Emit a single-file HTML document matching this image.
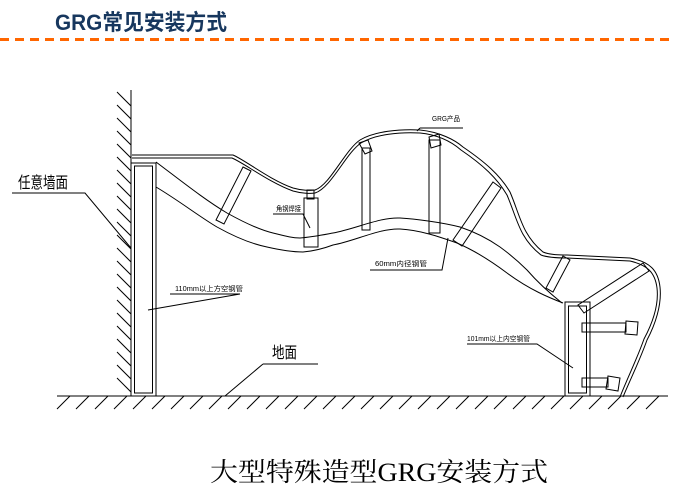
<!DOCTYPE html>
<html><head><meta charset="utf-8"><style>
html,body{margin:0;padding:0;background:#fff;}
svg{display:block;}
</style></head><body>
<svg width="687" height="499" viewBox="0 0 687 499" xmlns="http://www.w3.org/2000/svg">
<text x="55" y="30" font-family="Liberation Sans, 'Noto Sans CJK SC', sans-serif" font-weight="bold" font-size="22" fill="#17375e" textLength="172" lengthAdjust="spacingAndGlyphs">GRG常见安装方式</text>
<line x1="0" y1="39.5" x2="672" y2="39.5" stroke="#ff6600" stroke-width="3" stroke-dasharray="9,6"/>
<g stroke="#000" stroke-width="1" fill="none">
<line x1="131" y1="90" x2="131" y2="396"/>
<g>
<line x1="117" y1="92" x2="131" y2="106"/><line x1="117" y1="105" x2="131" y2="119"/><line x1="117" y1="118" x2="131" y2="132"/><line x1="117" y1="131" x2="131" y2="145"/><line x1="117" y1="144" x2="131" y2="158"/><line x1="117" y1="157" x2="131" y2="171"/><line x1="117" y1="170" x2="131" y2="184"/><line x1="117" y1="183" x2="131" y2="197"/><line x1="117" y1="196" x2="131" y2="210"/><line x1="117" y1="209" x2="131" y2="223"/><line x1="117" y1="222" x2="131" y2="236"/><line x1="117" y1="235" x2="131" y2="249"/><line x1="117" y1="248" x2="131" y2="262"/><line x1="117" y1="261" x2="131" y2="275"/><line x1="117" y1="274" x2="131" y2="288"/><line x1="117" y1="287" x2="131" y2="301"/><line x1="117" y1="300" x2="131" y2="314"/><line x1="117" y1="313" x2="131" y2="327"/><line x1="117" y1="326" x2="131" y2="340"/><line x1="117" y1="339" x2="131" y2="353"/><line x1="117" y1="352" x2="131" y2="366"/><line x1="117" y1="365" x2="131" y2="379"/><line x1="117" y1="378" x2="131" y2="392"/>
</g>
<line x1="57" y1="396" x2="668" y2="396"/>
<path d="M57 409L70 396M76 409L89 396M95 409L108 396M114 409L127 396M133 409L146 396M152 409L165 396M171 409L184 396M190 409L203 396M209 409L222 396M228 409L241 396M247 409L260 396M266 409L279 396M285 409L298 396M304 409L317 396M323 409L336 396M342 409L355 396M361 409L374 396M380 409L393 396M399 409L412 396M418 409L431 396M437 409L450 396M456 409L469 396M475 409L488 396M494 409L507 396M513 409L526 396M532 409L545 396M551 409L564 396M570 409L583 396M589 409L602 396M608 409L621 396M627 409L640 396M646 409L659 396"/>
<rect x="131" y="163" width="25" height="233"/>
<rect x="134.5" y="166" width="18" height="227"/>
<rect x="565" y="302" width="25" height="94"/>
<rect x="568.5" y="306" width="18" height="87"/>
<path d="M132 155L233 155C245 160 270 180 293 188C300 190 310 191 315 190C330 185 345 150 360 140C375 131 400 129 420 130C440 132 455 140 463 147C485 162 500 175 510 192C520 215 522 235 543 252C550 255 560 255 567 255L630 258C650 262 658 270 660 287C662 305 655 325 647 340C640 360 630 380 623 397"/>
<path d="M132 158L232 158C244 163 270 183 293 191C300 193 310 194 315 193C331 188 346 153 361 143C376 134 400 132 420 133C440 135 453 143 461 150C483 165 497 178 507 195C517 218 519 238 541 255C549 258 560 258 567 258L630 261C647 265 655 272 657 288C659 305 652 324 644 339C637 359 627 379 620 397"/>
<path d="M156 162C180 180 205 200 227 213C245 223 260 230 273 233C285 236 292 238 300 238C312 237 322 235 333 233C355 229 380 217 400 218C415 219 440 222 460 227C475 232 490 240 500 247C515 258 522 265 527 270C540 285 552 295 562 303"/>
<path d="M156 187C178 200 200 217 217 227C235 237 252 244 267 247C280 250 292 252 303 252C315 251 325 248 333 245C355 241 380 228 400 229C420 230 440 237 457 243C478 252 495 264 507 273C530 290 550 298 563 303"/>
<polygon points="243,167 251,171 224,224 216,220"/>
<rect x="304" y="198" width="14" height="49"/>
<rect x="307" y="190" width="7" height="9"/>
<rect x="362" y="148" width="8" height="82"/>
<polygon points="359,143 368,140 372,151 365,154"/>
<rect x="429" y="140" width="11" height="93"/>
<polygon points="429,137 439,134 441,145 431,148"/>
<polygon points="493,182 501,188 462,246 453,240"/>
<polygon points="563,256 570,260 553,292 546,288"/>
<polygon points="643,263 649,271 584,313 578,305"/>
<rect x="582" y="323" width="44" height="9"/>
<polygon points="626,321 638,322 637,335 625,334"/>
<rect x="582" y="378" width="26" height="9"/>
<polygon points="608,376 620,378 618,391 606,389"/>
<path d="M12 193L85 193L131 248"/>
<path d="M170 294L240 294L148 310"/>
<path d="M263 364L318 364M263 364L225 396"/>
<path d="M273 214L303 214L310 228"/>
<path d="M420 128L463 128M420 128L417 131"/>
<path d="M370 270L442 270L448 238"/>
<path d="M467 344L537 344L573 368"/>
</g>
<g font-family="Liberation Sans, 'Noto Sans CJK SC', sans-serif" fill="#000">
<text x="18" y="188" font-size="16" textLength="50" lengthAdjust="spacingAndGlyphs">任意墙面</text>
<text x="272" y="358" font-size="16" textLength="25" lengthAdjust="spacingAndGlyphs">地面</text>
<text x="175" y="291" font-size="7" textLength="68" lengthAdjust="spacingAndGlyphs">110mm以上方空钢管</text>
<text x="276" y="211" font-size="7" textLength="25" lengthAdjust="spacingAndGlyphs">角钢焊接</text>
<text x="432" y="121" font-size="7" textLength="28" lengthAdjust="spacingAndGlyphs">GRG产品</text>
<text x="375" y="266" font-size="7" textLength="52" lengthAdjust="spacingAndGlyphs">60mm内径钢管</text>
<text x="467" y="341" font-size="7" textLength="63" lengthAdjust="spacingAndGlyphs">101mm以上内空钢管</text>
</g>
<text x="210" y="481" font-family="Liberation Serif, 'Noto Serif CJK SC', serif" font-size="26" fill="#000" textLength="338" lengthAdjust="spacingAndGlyphs">大型特殊造型GRG安装方式</text>
</svg>
</body></html>
